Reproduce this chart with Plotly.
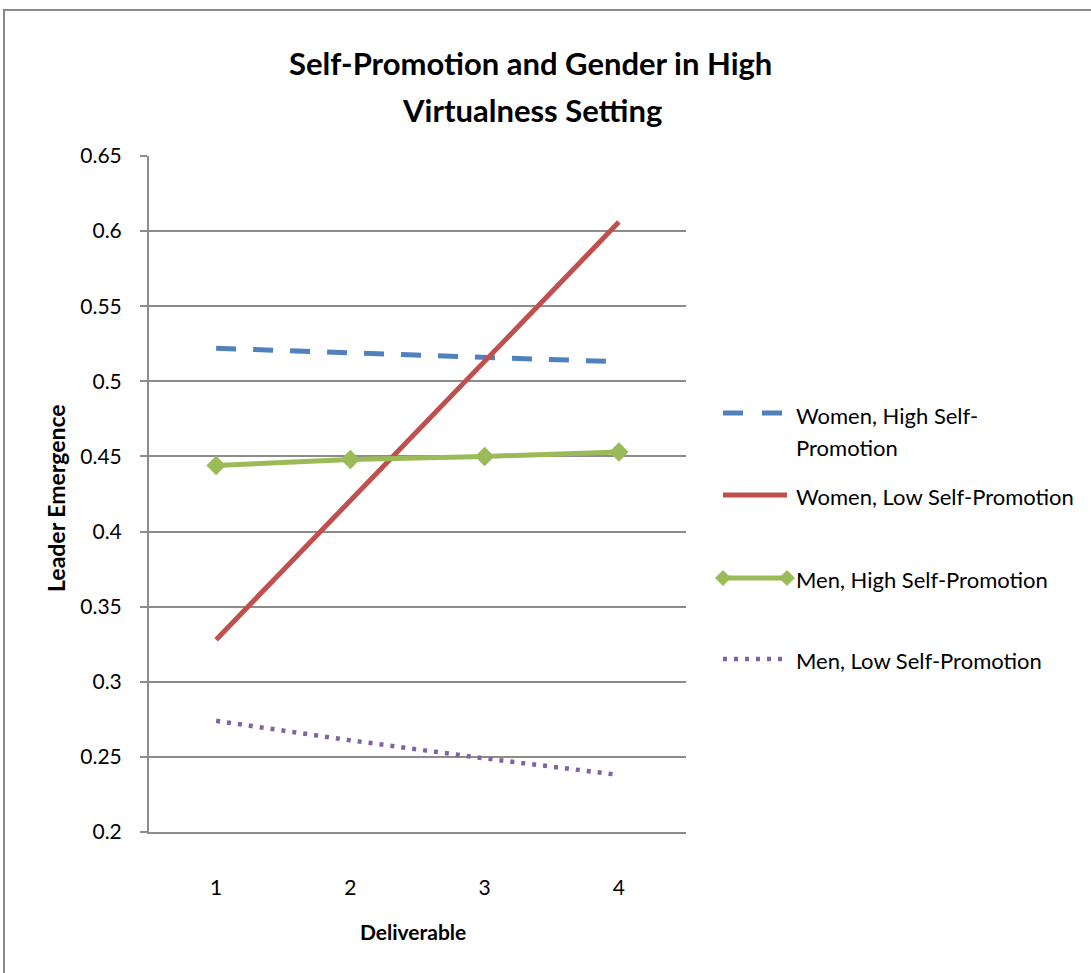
import plotly.graph_objects as go

# Leader emergence by deliverable, high-virtualness teams
deliverables = [1, 2, 3, 4]
women_high_sp = [0.522, 0.519, 0.516, 0.513]
women_low_sp = [0.328, 0.421, 0.514, 0.606]
men_high_sp = [0.444, 0.448, 0.450, 0.453]
men_low_sp = [0.274, 0.261, 0.249, 0.238]

series_names = [
    "Women, High Self-Promotion",
    "Women, Low Self-Promotion",
    "Men, High Self-Promotion",
    "Men, Low Self-Promotion",
]
y_ticks = [0.2, 0.25, 0.3, 0.35, 0.4, 0.45, 0.5, 0.55, 0.6, 0.65]
y_tick_text = ["0.2", "0.25", "0.3", "0.35", "0.4", "0.45", "0.5", "0.55", "0.6", "0.65"]

BLUE, RED, GREEN, PURPLE = "#4F81BD", "#C0504D", "#9BBB59", "#8064A2"
GRID = "#8c8c8c"
FONT = "Lato"

W, H = 1091, 973
L, R, T, B = 149, 686, 156, 832  # plot-area edges in pixels


def px(x):
    return (x - L) / (R - L)


def py(y):
    return (B - y) / (B - T)


fig = go.Figure()
fig.add_trace(go.Scatter(x=deliverables, y=women_high_sp, mode="lines", name=series_names[0],
                         line=dict(color=BLUE, width=5, dash="20px,17px")))
fig.add_trace(go.Scatter(x=deliverables, y=women_low_sp, mode="lines", name=series_names[1],
                         line=dict(color=RED, width=5)))
fig.add_trace(go.Scatter(x=deliverables, y=men_high_sp, mode="lines+markers", name=series_names[2],
                         line=dict(color=GREEN, width=5),
                         marker=dict(symbol="diamond", size=15, color=GREEN)))
fig.add_trace(go.Scatter(x=deliverables, y=men_low_sp, mode="lines", name=series_names[3],
                         line=dict(color=PURPLE, width=4.5, dash="4px,7px")))

shapes = []
annotations = []

# outer chart frame
shapes.append(dict(type="rect", xref="paper", yref="paper",
                   x0=px(4), y0=py(10), x1=px(W + 20), y1=py(H + 20),
                   line=dict(color="#8a8a8a", width=2), fillcolor="rgba(0,0,0,0)", layer="below"))

# legend keys
kx0, kx1 = 723, 787
shapes.append(dict(type="line", xref="paper", yref="paper", x0=px(kx0), x1=px(kx1),
                   y0=py(413), y1=py(413), line=dict(color=BLUE, width=5, dash="20px,19px")))
shapes.append(dict(type="line", xref="paper", yref="paper", x0=px(kx0), x1=px(kx1),
                   y0=py(495), y1=py(495), line=dict(color=RED, width=5)))
shapes.append(dict(type="line", xref="paper", yref="paper", x0=px(kx0), x1=px(kx1),
                   y0=py(578), y1=py(578), line=dict(color=GREEN, width=5)))
for cx in (kx0, kx1):
    d = 7.5
    path = (f"M {px(cx - d)} {py(578)} L {px(cx)} {py(578 - d)} "
            f"L {px(cx + d)} {py(578)} L {px(cx)} {py(578 + d)} Z")
    shapes.append(dict(type="path", xref="paper", yref="paper", path=path,
                       fillcolor=GREEN, line=dict(color=GREEN, width=1)))
shapes.append(dict(type="line", xref="paper", yref="paper", x0=px(kx0), x1=px(kx1 - 4),
                   y0=py(659), y1=py(659), line=dict(color=PURPLE, width=4.5, dash="4px,7px")))

legend_text = [
    ("Women, High Self-", 415),
    ("Promotion", 447),
    (series_names[1], 496),
    (series_names[2], 579),
    (series_names[3], 660),
]
for txt, yy in legend_text:
    annotations.append(dict(text=txt, xref="paper", yref="paper", x=px(794), y=py(yy),
                            xanchor="left", yanchor="middle", showarrow=False,
                            font=dict(family=FONT, size=22, color="#000")))

# title lines
annotations.append(dict(text="<b>Self-Promotion and Gender in High</b>", xref="paper", yref="paper",
                        x=px(530), y=py(63), xanchor="center", yanchor="middle", showarrow=False,
                        font=dict(family=FONT, size=31, color="#000")))
annotations.append(dict(text="<b>Virtualness Setting</b>", xref="paper", yref="paper",
                        x=px(532), y=py(110), xanchor="center", yanchor="middle", showarrow=False,
                        font=dict(family=FONT, size=31, color="#000")))

# axis titles
annotations.append(dict(text="<b>Leader Emergence</b>", xref="paper", yref="paper",
                        x=px(56), y=py(498), xanchor="center", yanchor="middle", showarrow=False,
                        textangle=-90, font=dict(family=FONT, size=23, color="#000")))
annotations.append(dict(text="<b>Deliverable</b>", xref="paper", yref="paper",
                        x=px(413), y=py(931), xanchor="center", yanchor="middle", showarrow=False,
                        font=dict(family=FONT, size=21, color="#000")))

fig.update_layout(
    width=W, height=H,
    margin=dict(l=L, r=W - R, t=T, b=H - B, autoexpand=False),
    paper_bgcolor="white", plot_bgcolor="white",
    showlegend=False,
    shapes=shapes, annotations=annotations,
    font=dict(family=FONT, color="#000"),
)
fig.update_xaxes(
    range=[0.5, 4.5], tickmode="array", tickvals=deliverables,
    ticktext=[str(v) for v in deliverables],
    showgrid=False, zeroline=False,
    showline=True, linecolor=GRID, linewidth=2,
    ticks="", ticklabelstandoff=36,
    tickfont=dict(family=FONT, size=21, color="#000"),
)
fig.update_yaxes(
    range=[0.2, 0.65], tickmode="array", tickvals=y_ticks, ticktext=y_tick_text,
    showgrid=True, gridcolor=GRID, gridwidth=1.8, zeroline=False,
    showline=True, linecolor=GRID, linewidth=2,
    ticks="outside", ticklen=7, tickcolor=GRID, tickwidth=1.8,
    ticklabelstandoff=14,
    tickfont=dict(family=FONT, size=21, color="#000"),
)

fig.write_html("out.html")
